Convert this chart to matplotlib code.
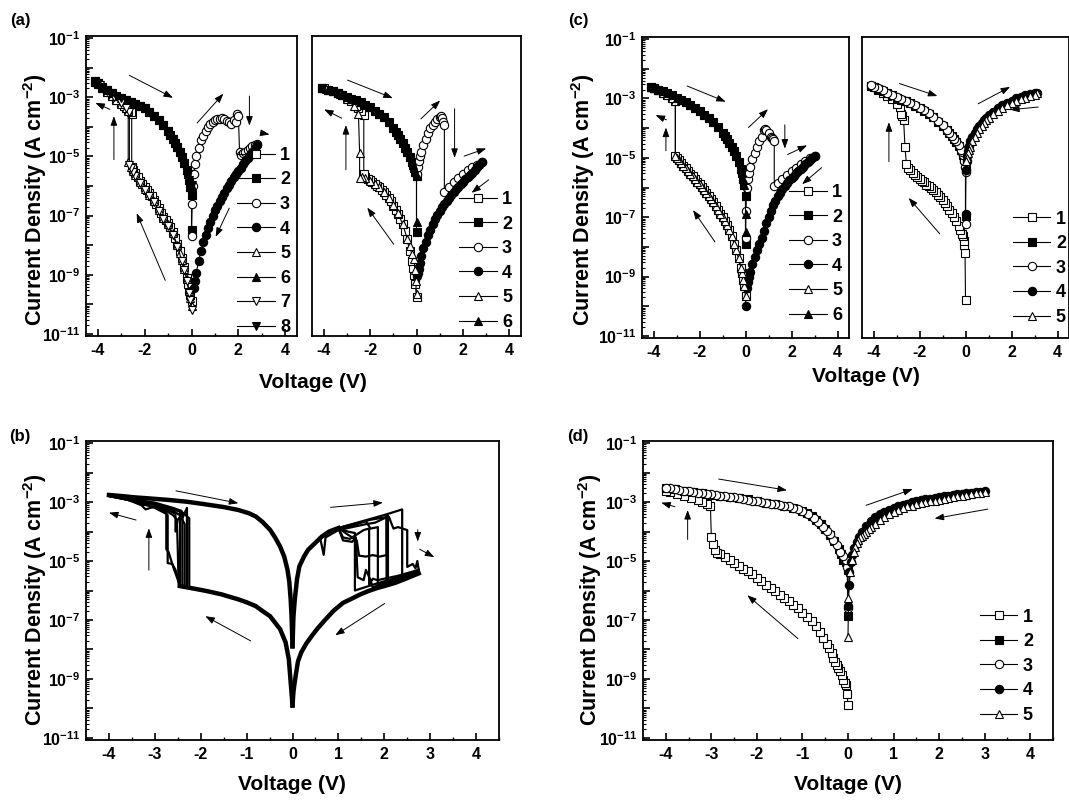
import numpy as np
import matplotlib
matplotlib.use("Agg")
import matplotlib.pyplot as plt
from matplotlib.ticker import FixedLocator, FuncFormatter, LogLocator, MultipleLocator, NullFormatter

# ---------------- data (V in volts, L = log10 of current density) ----------------
# panel (a) left
aL1_V = [0, -0.05, -0.1, -0.15, -0.2, -0.3, -0.4, -0.5, -0.6, -0.7, -0.8, -0.9, -1.0, -1.1, -1.2, -1.3, -1.4, -1.5, -1.6, -1.7, -1.8, -1.9, -2.0, -2.1, -2.2, -2.3, -2.4, -2.5, -2.55, -2.55, -2.6, -2.7, -2.8, -2.9, -3.0, -3.2, -3.4, -3.6, -3.8, -4.0, -4.1]
aL1_L = [-9.9, -9.7, -9.5, -9.3, -9.1, -8.75, -8.45, -8.2, -7.95, -7.75, -7.55, -7.4, -7.25, -7.15, -7.04, -6.9, -6.75, -6.6, -6.47, -6.35, -6.25, -6.15, -6.05, -5.93, -5.82, -5.7, -5.56, -5.45, -5.35, -3.55, -3.5, -3.42, -3.35, -3.28, -3.2, -3.08, -2.97, -2.83, -2.68, -2.55, -2.47]
aL2_V = [-4.1, -4.0, -3.8, -3.6, -3.4, -3.2, -3.0, -2.8, -2.6, -2.4, -2.2, -2.0, -1.8, -1.6, -1.4, -1.2, -1.0, -0.9, -0.8, -0.7, -0.6, -0.5, -0.4, -0.3, -0.2, -0.15, -0.1, -0.05, 0, 0]
aL2_L = [-2.45, -2.52, -2.64, -2.76, -2.86, -2.95, -3.02, -3.08, -3.15, -3.22, -3.3, -3.38, -3.5, -3.62, -3.77, -3.95, -4.15, -4.27, -4.4, -4.53, -4.68, -4.85, -5.02, -5.22, -5.45, -5.6, -5.8, -6.05, -6.3, -7.5]
aL3_V = [0, 0.03, 0.06, 0.1, 0.15, 0.2, 0.3, 0.4, 0.5, 0.6, 0.7, 0.8, 0.9, 1.0, 1.1, 1.2, 1.3, 1.4, 1.5, 1.6, 1.7, 1.8, 1.9, 1.95, 2.0, 2.05, 2.1, 2.2, 2.3, 2.4, 2.5, 2.6, 2.7, 2.8]
aL3_L = [-7.7, -6.6, -6.0, -5.6, -5.25, -5.0, -4.7, -4.45, -4.3, -4.15, -4.02, -3.92, -3.85, -3.78, -3.74, -3.72, -3.7, -3.72, -3.8, -3.85, -3.9, -3.78, -3.85, -3.55, -3.65, -4.85, -4.95, -4.9, -4.85, -4.78, -4.72, -4.66, -4.62, -4.58]
aL4_V = [2.8, 2.7, 2.6, 2.5, 2.4, 2.3, 2.2, 2.1, 2.0, 1.9, 1.8, 1.7, 1.6, 1.5, 1.4, 1.3, 1.2, 1.1, 1.0, 0.9, 0.8, 0.7, 0.6, 0.5, 0.4, 0.3, 0.2, 0.15, 0.1]
aL4_L = [-4.6, -4.72, -4.85, -4.95, -5.05, -5.15, -5.27, -5.38, -5.48, -5.58, -5.7, -5.82, -5.95, -6.08, -6.22, -6.36, -6.5, -6.66, -6.82, -7.0, -7.2, -7.42, -7.65, -7.9, -8.2, -8.55, -8.95, -9.2, -9.45]
aL5_V = [0, -0.05, -0.1, -0.2, -0.3, -0.4, -0.5, -0.6, -0.8, -1.0, -1.2, -1.4, -1.6, -1.8, -2.0, -2.2, -2.4, -2.5, -2.6, -2.7, -2.7, -2.8, -3.0, -3.2, -3.4, -3.6, -3.8, -4.0, -4.1]
aL5_L = [-10.05, -9.8, -9.55, -9.15, -8.8, -8.5, -8.25, -8.0, -7.6, -7.3, -7.08, -6.8, -6.52, -6.3, -6.1, -5.87, -5.62, -5.5, -5.35, -5.2, -3.45, -3.38, -3.22, -3.08, -2.95, -2.82, -2.68, -2.55, -2.48]
aL6_end = [-6.0]
aL7_V = [0, -0.05, -0.1, -0.2, -0.3, -0.4, -0.6, -0.8, -1.0, -1.2, -1.4, -1.6, -1.8, -2.0, -2.2, -2.4, -2.5, -2.6, -2.65, -2.65, -2.8, -3.0, -3.3, -3.6, -3.9, -4.1]
aL7_L = [-10.2, -9.85, -9.6, -9.2, -8.85, -8.55, -8.05, -7.65, -7.35, -7.1, -6.85, -6.55, -6.33, -6.12, -5.9, -5.65, -5.52, -5.4, -5.3, -3.5, -3.36, -3.2, -3.0, -2.8, -2.6, -2.47]
aL8_end = [-5.96]

# panel (a) right
aR1_V = [0, -0.05, -0.1, -0.15, -0.2, -0.3, -0.4, -0.5, -0.6, -0.7, -0.8, -0.9, -1.0, -1.1, -1.2, -1.3, -1.4, -1.5, -1.6, -1.7, -1.8, -1.9, -2.0, -2.1, -2.2, -2.27, -2.27, -2.4, -2.5, -2.6, -2.8, -3.0, -3.2, -3.4, -3.6, -3.8, -4.0, -4.05]
aR1_L = [-9.75, -9.3, -9.0, -8.77, -8.55, -8.2, -7.8, -7.52, -7.3, -7.1, -6.94, -6.8, -6.66, -6.52, -6.4, -6.3, -6.2, -6.12, -6.05, -5.99, -5.93, -5.87, -5.81, -5.75, -5.68, -5.6, -3.6, -3.48, -3.38, -3.28, -3.13, -3.02, -2.93, -2.86, -2.8, -2.75, -2.7, -2.68]
aR2_V = [-4.05, -3.8, -3.6, -3.4, -3.2, -3.0, -2.8, -2.6, -2.4, -2.2, -2.0, -1.8, -1.6, -1.4, -1.2, -1.0, -0.9, -0.8, -0.7, -0.6, -0.5, -0.4, -0.3, -0.2, -0.15, -0.1, -0.05, 0, 0]
aR2_L = [-2.68, -2.75, -2.8, -2.86, -2.93, -3.0, -3.05, -3.1, -3.17, -3.25, -3.33, -3.45, -3.55, -3.68, -3.85, -4.05, -4.16, -4.28, -4.42, -4.55, -4.7, -4.85, -5.02, -5.2, -5.3, -5.4, -5.52, -5.65, -7.55]
aR3_V = [0, 0.05, 0.1, 0.15, 0.2, 0.3, 0.4, 0.5, 0.6, 0.7, 0.8, 0.9, 1.0, 1.05, 1.1, 1.15, 1.2, 1.2, 1.4, 1.6, 1.8, 2.0, 2.2, 2.4, 2.6, 2.8]
aR3_L = [-5.6, -5.35, -5.15, -5.0, -4.85, -4.6, -4.4, -4.2, -4.05, -3.93, -3.83, -3.74, -3.66, -3.62, -3.7, -3.82, -3.95, -6.2, -6.05, -5.88, -5.72, -5.58, -5.47, -5.37, -5.28, -5.2]
aR4_V = [2.8, 2.7, 2.6, 2.5, 2.4, 2.3, 2.2, 2.1, 2.0, 1.9, 1.8, 1.7, 1.6, 1.5, 1.4, 1.3, 1.2, 1.1, 1.0, 0.9, 0.8, 0.7, 0.6, 0.5, 0.4, 0.3, 0.2, 0.15, 0.1, 0.05, 0]
aR4_L = [-5.2, -5.28, -5.37, -5.46, -5.55, -5.62, -5.7, -5.78, -5.85, -5.93, -6.02, -6.1, -6.2, -6.3, -6.4, -6.5, -6.6, -6.72, -6.85, -6.98, -7.12, -7.3, -7.48, -7.65, -7.88, -8.1, -8.38, -8.6, -8.8, -8.95, -9.05]
aR5_V = [0, -0.04, -0.07, -0.1, -0.2, -0.3, -0.4, -0.6, -0.8, -1.0, -1.2, -1.4, -1.6, -1.8, -2.0, -2.2, -2.35, -2.45, -2.45, -2.5, -2.7, -3.0, -3.3, -3.6, -3.9, -4.05]
aR5_L = [-9.65, -9.2, -8.83, -8.48, -8.3, -8.02, -7.78, -7.28, -6.92, -6.64, -6.4, -6.2, -6.05, -5.92, -5.82, -5.74, -5.7, -5.74, -4.88, -3.55, -3.3, -3.06, -2.9, -2.8, -2.72, -2.68]
aR6_end = [-7.22]

# panel (c) left
cL1_V = [0, -0.05, -0.1, -0.15, -0.2, -0.3, -0.4, -0.5, -0.6, -0.7, -0.8, -0.9, -1.0, -1.1, -1.2, -1.3, -1.4, -1.5, -1.6, -1.7, -1.8, -1.9, -2.0, -2.1, -2.2, -2.3, -2.4, -2.5, -2.6, -2.7, -2.8, -2.9, -3.0, -3.05, -3.05, -3.2, -3.4, -3.6, -3.8, -4.0, -4.1]
cL1_L = [-9.67, -9.33, -9.1, -8.89, -8.7, -8.39, -8.12, -7.89, -7.65, -7.44, -7.28, -7.13, -7.0, -6.88, -6.76, -6.64, -6.5, -6.39, -6.29, -6.18, -6.08, -5.98, -5.89, -5.8, -5.71, -5.62, -5.53, -5.44, -5.35, -5.26, -5.17, -5.09, -5.0, -4.95, -3.1, -2.98, -2.9, -2.82, -2.73, -2.65, -2.6]
cL2_V = [-4.1, -4.0, -3.8, -3.6, -3.4, -3.2, -3.0, -2.8, -2.6, -2.4, -2.2, -2.0, -1.8, -1.6, -1.4, -1.2, -1.0, -0.9, -0.8, -0.7, -0.6, -0.5, -0.4, -0.3, -0.2, -0.15, -0.1, -0.05, 0, 0]
cL2_L = [-2.62, -2.65, -2.7, -2.76, -2.82, -2.9, -2.98, -3.05, -3.13, -3.22, -3.33, -3.43, -3.55, -3.67, -3.8, -3.97, -4.15, -4.27, -4.38, -4.5, -4.63, -4.78, -4.95, -5.15, -5.38, -5.52, -5.7, -5.92, -6.3, -7.9]
cL3_V = [0, 0.02, 0.05, 0.1, 0.15, 0.2, 0.3, 0.4, 0.5, 0.6, 0.7, 0.8, 0.85, 0.9, 1.0, 1.1, 1.15, 1.2, 1.25, 1.25, 1.4, 1.6, 1.8, 2.0, 2.2, 2.4, 2.6, 2.8, 3.0]
cL3_L = [-7.7, -6.8, -6.0, -5.7, -5.5, -5.3, -5.05, -4.83, -4.65, -4.45, -4.3, -4.05, -4.02, -4.05, -4.15, -4.3, -4.32, -4.35, -4.45, -5.95, -5.85, -5.7, -5.57, -5.45, -5.33, -5.22, -5.12, -5.02, -4.94]
cL4_V = [3.0, 2.9, 2.8, 2.7, 2.6, 2.5, 2.4, 2.3, 2.2, 2.1, 2.0, 1.9, 1.8, 1.7, 1.6, 1.5, 1.4, 1.3, 1.2, 1.1, 1.0, 0.9, 0.8, 0.7, 0.6, 0.5, 0.4, 0.3, 0.2, 0.15, 0.1, 0.05, 0]
cL4_L = [-4.94, -5.01, -5.08, -5.15, -5.22, -5.3, -5.38, -5.45, -5.52, -5.6, -5.68, -5.76, -5.85, -5.95, -6.05, -6.17, -6.3, -6.45, -6.6, -6.78, -6.98, -7.2, -7.45, -7.7, -7.9, -8.1, -8.33, -8.58, -8.85, -9.0, -9.2, -9.4, -9.98]
cL6_end_V = [0, 0]
cL6_end_L = [-6.9, -7.5]

# panel (c) right
cR1_V = [0, -0.02, -0.05, -0.08, -0.12, -0.16, -0.22, -0.3, -0.4, -0.5, -0.6, -0.7, -0.8, -0.9, -1.0, -1.1, -1.2, -1.3, -1.4, -1.5, -1.6, -1.7, -1.8, -1.9, -2.0, -2.1, -2.2, -2.3, -2.4, -2.5, -2.57, -2.63, -2.69, -2.75, -2.8, -2.85, -3.0, -3.2, -3.4, -3.6, -3.8, -4.0, -4.1]
cR1_L = [-9.78, -8.2, -7.95, -7.8, -7.65, -7.55, -7.43, -7.3, -7.12, -6.98, -6.86, -6.75, -6.64, -6.53, -6.43, -6.33, -6.24, -6.16, -6.09, -6.02, -5.96, -5.9, -5.83, -5.77, -5.7, -5.64, -5.57, -5.5, -5.42, -5.33, -5.2, -4.65, -3.74, -3.6, -3.52, -3.29, -3.18, -3.03, -2.92, -2.82, -2.72, -2.62, -2.58]
cR2_V = [-4.1, -4.0, -3.8, -3.6, -3.4, -3.2, -3.0, -2.8, -2.6, -2.4, -2.2, -2.0, -1.8, -1.6, -1.4, -1.2, -1.0, -0.8, -0.7, -0.6, -0.5, -0.4, -0.3, -0.2, -0.1, -0.05, 0, 0]
cR2_L = [-2.57, -2.61, -2.68, -2.75, -2.82, -2.9, -2.97, -3.04, -3.1, -3.17, -3.25, -3.33, -3.42, -3.52, -3.63, -3.78, -3.92, -4.07, -4.17, -4.27, -4.37, -4.47, -4.6, -4.73, -4.9, -5.05, -5.3, -6.97]
cR3_V = [0, 0, -0.02, -0.05, -0.1, -0.15, -0.2, -0.3, -0.4, -0.5, -0.6, -0.7, -0.8, -1.0, -1.2, -1.4, -1.6, -1.8, -2.0, -2.2, -2.4, -2.6, -2.8, -3.0, -3.2, -3.4, -3.6, -3.8, -4.0, -4.1]
cR3_L = [-7.22, -5.47, -5.3, -5.1, -4.92, -4.8, -4.72, -4.58, -4.45, -4.35, -4.25, -4.15, -4.05, -3.9, -3.76, -3.62, -3.5, -3.4, -3.31, -3.23, -3.15, -3.08, -3.02, -2.95, -2.88, -2.8, -2.73, -2.66, -2.6, -2.56]
cR4_V = [0, 0.02, 0.05, 0.07, 0.1, 0.14, 0.2, 0.3, 0.4, 0.5, 0.6, 0.7, 0.8, 0.9, 1.0, 1.2, 1.4, 1.6, 1.8, 2.0, 2.2, 2.4, 2.6, 2.8, 3.0, 3.1]
cR4_L = [-6.9, -5.4, -5.1, -4.95, -4.78, -4.6, -4.45, -4.29, -4.15, -4.03, -3.93, -3.83, -3.74, -3.65, -3.57, -3.45, -3.33, -3.23, -3.14, -3.07, -3.0, -2.95, -2.9, -2.86, -2.83, -2.8]
cR5_V = [3.1, 3.0, 2.8, 2.6, 2.4, 2.2, 2.0, 1.8, 1.6, 1.4, 1.2, 1.0, 0.9, 0.8, 0.7, 0.6, 0.5, 0.4, 0.3, 0.2, 0.15, 0.1, 0.05, 0]
cR5_L = [-2.82, -2.87, -2.92, -2.97, -3.02, -3.08, -3.15, -3.22, -3.31, -3.41, -3.53, -3.66, -3.74, -3.83, -3.93, -4.04, -4.16, -4.3, -4.45, -4.62, -4.73, -4.85, -5.0, -5.1]

# panel (d)
d1_V = [0, -0.02, -0.04, -0.07, -0.1, -0.14, -0.17, -0.21, -0.24, -0.28, -0.32, -0.36, -0.42, -0.47, -0.54, -0.61, -0.7, -0.8, -0.9, -1.0, -1.1, -1.2, -1.3, -1.4, -1.5, -1.6, -1.7, -1.8, -1.9, -2.0, -2.1, -2.2, -2.3, -2.4, -2.5, -2.6, -2.7, -2.8, -2.87, -2.92, -2.96, -3.0, -3.02, -3.1, -3.2, -3.3, -3.45, -3.6, -3.75, -3.9, -4.0]
d1_L = [-9.89, -9.5, -9.22, -9.12, -9.04, -8.88, -8.74, -8.62, -8.52, -8.42, -8.3, -8.13, -7.95, -7.8, -7.6, -7.41, -7.22, -7.05, -6.9, -6.75, -6.61, -6.49, -6.37, -6.25, -6.14, -6.03, -5.91, -5.8, -5.69, -5.56, -5.45, -5.35, -5.26, -5.17, -5.06, -4.95, -4.86, -4.76, -4.72, -4.62, -4.41, -4.19, -3.13, -3.08, -3.0, -2.93, -2.86, -2.78, -2.72, -2.66, -2.62]
d2_V = [-4.0, -3.8, -3.6, -3.4, -3.2, -3.0, -2.8, -2.6, -2.4, -2.2, -2.0, -1.8, -1.6, -1.4, -1.2, -1.0, -0.9, -0.8, -0.7, -0.6, -0.5, -0.4, -0.3, -0.2, -0.15, -0.1, -0.05, 0, 0]
d2_L = [-2.52, -2.57, -2.62, -2.66, -2.71, -2.75, -2.79, -2.82, -2.86, -2.91, -2.97, -3.02, -3.08, -3.14, -3.2, -3.32, -3.38, -3.48, -3.6, -3.75, -3.92, -4.12, -4.33, -4.6, -4.75, -4.95, -5.05, -5.3, -6.88]
d3_V = [0, -0.02, -0.05, -0.1, -0.17, -0.25, -0.32, -0.4, -0.47, -0.55, -0.65, -0.75, -0.87, -1.0, -1.1, -1.2, -1.3, -1.4, -1.5, -1.6, -1.7, -1.8, -1.9, -2.0, -2.1, -2.2, -2.3, -2.4, -2.5, -2.6, -2.7, -2.8, -2.9, -3.0, -3.1, -3.2, -3.3, -3.4, -3.5, -3.6, -3.7, -3.8, -3.9, -4.0]
d3_L = [-6.6, -5.2, -4.97, -4.82, -4.69, -4.45, -4.3, -4.1, -3.97, -3.83, -3.69, -3.55, -3.41, -3.3, -3.24, -3.19, -3.15, -3.13, -3.11, -3.08, -3.05, -3.02, -3.0, -2.97, -2.95, -2.92, -2.89, -2.86, -2.84, -2.82, -2.8, -2.78, -2.76, -2.74, -2.72, -2.7, -2.68, -2.66, -2.64, -2.61, -2.58, -2.56, -2.54, -2.52]
d4_V = [0, 0.02, 0.03, 0.06, 0.09, 0.14, 0.2, 0.25, 0.31, 0.4, 0.5, 0.6, 0.7, 0.8, 0.9, 1.0, 1.1, 1.2, 1.3, 1.4, 1.5, 1.6, 1.7, 1.8, 1.9, 2.0, 2.1, 2.2, 2.3, 2.4, 2.5, 2.6, 2.7, 2.8, 2.9, 3.0]
d4_L = [-6.52, -5.8, -5.36, -5.05, -4.8, -4.55, -4.36, -4.2, -4.02, -3.82, -3.63, -3.52, -3.42, -3.34, -3.26, -3.2, -3.14, -3.1, -3.05, -3.01, -2.97, -2.94, -2.91, -2.88, -2.85, -2.82, -2.8, -2.78, -2.76, -2.74, -2.72, -2.7, -2.68, -2.66, -2.65, -2.63]
d5_V = [3.0, 2.9, 2.8, 2.7, 2.6, 2.5, 2.4, 2.3, 2.2, 2.1, 2.0, 1.9, 1.8, 1.7, 1.6, 1.5, 1.4, 1.3, 1.2, 1.1, 1.0, 0.9, 0.8, 0.7, 0.6, 0.5, 0.45, 0.4, 0.35, 0.3, 0.27, 0.23, 0.2, 0.16, 0.13, 0.09, 0.05, 0.01, 0]
d5_L = [-2.67, -2.69, -2.71, -2.73, -2.76, -2.79, -2.81, -2.84, -2.87, -2.9, -2.93, -2.95, -2.97, -3.0, -3.04, -3.08, -3.12, -3.15, -3.19, -3.26, -3.33, -3.42, -3.52, -3.62, -3.74, -3.86, -3.93, -4.0, -4.08, -4.15, -4.19, -4.3, -4.4, -4.52, -4.7, -4.97, -5.36, -6.24, -7.58]

# panel (b): common branches of the repeated cycles
b_ll_V = [0, -0.02, -0.04, -0.08, -0.15, -0.27, -0.4, -0.49, -0.65, -0.8, -1.0, -1.18, -1.4, -1.55, -1.75, -1.93, -2.1, -2.24, -2.35, -2.45]
b_ll_L = [-9.9, -9.5, -9.11, -8.33, -7.76, -7.31, -7.05, -6.87, -6.7, -6.53, -6.4, -6.3, -6.2, -6.13, -6.06, -6.0, -5.95, -5.91, -5.88, -5.85]
b_ul_V = [-4.0, -3.7, -3.45, -3.1, -2.69, -2.3, -1.93, -1.5, -1.18, -0.95, -0.8, -0.65, -0.49, -0.38, -0.27, -0.18, -0.11, -0.07, -0.04, -0.02, 0]
b_ul_L = [-2.76, -2.8, -2.84, -2.88, -2.93, -2.99, -3.07, -3.17, -3.27, -3.38, -3.49, -3.68, -3.94, -4.2, -4.51, -4.85, -5.29, -5.7, -6.3, -6.9, -7.88]
b_pos_V = [0, 0.02, 0.05, 0.1, 0.15, 0.25, 0.34, 0.5, 0.64, 0.8, 1.0]
b_pos_L = [-7.9, -6.9, -6.3, -5.6, -5.18, -4.85, -4.62, -4.38, -4.17, -4.0, -3.88]
b_lr_V = [2.75, 2.5, 2.24, 2.0, 1.86, 1.65, 1.48, 1.3, 1.1, 0.9, 0.72, 0.55, 0.42, 0.3, 0.19, 0.12, 0.08, 0.04, 0.02, 0]
b_lr_L = [-5.42, -5.58, -5.74, -5.85, -5.91, -6.02, -6.13, -6.27, -6.42, -6.68, -6.98, -7.28, -7.54, -7.8, -8.1, -8.4, -8.78, -9.2, -9.45, -9.9]
# panel (b): set (negative) transitions of each cycle
b_set1_V = [-2.25, -2.25, -2.4, -2.7, -3.0, -3.5, -4.0]
b_set1_L = [-5.92, -3.55, -3.35, -3.2, -3.05, -2.9, -2.78]
b_set2_V = [-2.35, -2.35, -2.45, -2.6, -3.0, -3.5, -4.0]
b_set2_L = [-5.88, -3.75, -3.45, -3.3, -3.05, -2.92, -2.78]
b_set3_V = [-2.45, -2.45, -2.6, -3.0, -3.3, -3.6, -4.0]
b_set3_L = [-5.85, -3.3, -3.25, -3.08, -3.1, -2.92, -2.8]
b_set4_V = [-2.45, -2.48, -2.5, -2.52, -2.6, -2.7, -3.0, -3.5, -4.0]
b_set4_L = [-5.85, -5.88, -4.6, -3.6, -3.45, -3.35, -3.1, -2.95, -2.79]
b_set5_V = [-2.45, -2.55, -2.62, -2.72, -2.72, -2.8, -3.0, -3.2, -3.3, -3.5, -4.0]
b_set5_L = [-5.85, -5.3, -5.1, -5.07, -3.45, -3.3, -3.15, -3.25, -3.1, -2.95, -2.8]
b_set6_V = [-2.4, -2.4, -2.5, -2.55, -2.55, -2.8, -3.2, -3.6, -4.0]
b_set6_L = [-5.86, -3.4, -3.6, -4.0, -3.4, -3.2, -3.0, -2.88, -2.77]
b_set7_V = [-2.3, -2.3, -2.4, -2.42, -2.6, -3.0, -3.5, -4.0]
b_set7_L = [-5.9, -3.2, -3.55, -3.3, -3.2, -3.02, -2.9, -2.77]
b_set8_V = [-2.45, -2.6, -2.7, -2.75, -2.75, -3.0, -3.4, -3.8, -4.0]
b_set8_L = [-5.85, -5.2, -4.7, -4.6, -3.4, -3.2, -3.0, -2.85, -2.78]
# panel (b): reset (positive) transitions of each cycle
b_rst1_V = [1.0, 1.2, 1.36, 1.36, 1.8, 2.3, 2.75]
b_rst1_L = [-3.88, -4.0, -4.05, -6.0, -5.78, -5.55, -5.35]
b_rst2_V = [1.0, 1.1, 1.25, 1.4, 1.55, 1.67, 1.67, 1.75, 1.85, 2.3, 2.75]
b_rst2_L = [-3.88, -4.2, -4.25, -4.1, -3.95, -3.9, -5.8, -5.6, -5.65, -5.5, -5.3]
b_rst3_V = [1.0, 1.3, 1.5, 1.6, 1.7, 1.86, 1.86, 2.3, 2.75]
b_rst3_L = [-3.88, -3.8, -3.7, -3.65, -3.9, -3.85, -5.85, -5.6, -5.35]
b_rst4_V = [1.0, 1.2, 1.4, 1.45, 1.6, 1.75, 1.9, 2.05, 2.05, 2.08, 2.08, 2.4, 2.75]
b_rst4_L = [-3.88, -4.1, -4.3, -4.82, -4.85, -4.8, -4.85, -4.8, -3.45, -3.45, -5.75, -5.55, -5.3]
b_rst5_V = [1.0, 1.5, 2.0, 2.39, 2.39, 2.6, 2.75]
b_rst5_L = [-3.88, -3.66, -3.44, -3.25, -5.6, -5.45, -5.35]
b_rst6_V = [1.0, 1.1, 1.3, 1.38, 1.42, 1.55, 1.6, 1.7, 1.75, 2.2, 2.75]
b_rst6_L = [-3.88, -4.3, -4.35, -4.2, -5.55, -5.65, -5.3, -5.65, -5.9, -5.6, -5.4]
b_rst7_V = [1.0, 1.7, 2.1, 2.2, 2.3, 2.5, 2.5, 2.62, 2.68, 2.72, 2.75]
b_rst7_L = [-3.88, -3.6, -3.5, -3.9, -3.85, -3.95, -5.2, -5.1, -5.25, -5.0, -5.3]
b_rst8_V = [0.6, 0.68, 0.72, 1.0, 1.6, 1.8, 2.0, 2.05, 2.05, 2.4, 2.75]
b_rst8_L = [-4.2, -4.79, -4.2, -3.95, -3.75, -3.7, -3.55, -3.5, -5.7, -5.5, -5.35]

# sweep-direction arrows: (V start, logJ start, V end, logJ end)
aL_arrows = [(-2.65, -2.26, -0.79, -3.02), (0.24, -3.87, 1.36, -2.88), (2.47, -2.96, 2.47, -3.96), (2.94, -4.2, 3.33, -4.26),
             (1.61, -6.75, 1.03, -7.72), (-1.12, -9.19, -2.34, -6.92), (-3.31, -5.11, -3.31, -3.64), (-3.48, -3.41, -4.1, -3.19)]
aR_arrows = [(-2.97, -2.42, -1.02, -3.03), (0.19, -3.73, 1.02, -3.11), (1.64, -3.39, 1.64, -5.05), (2.05, -4.99, 3.0, -4.73),
             (3.11, -5.79, 2.37, -6.23), (-0.98, -7.97, -2.12, -6.73), (-3.04, -5.45, -3.04, -3.94), (-3.22, -3.71, -3.98, -3.41)]
cL_arrows = [(-2.54, -2.58, -0.86, -3.11), (0.13, -3.98, 0.98, -3.36), (1.71, -3.89, 1.71, -4.69), (1.83, -4.89, 2.68, -4.58),
             (3.31, -5.33, 2.46, -5.89), (-1.33, -7.83, -2.28, -6.76), (-3.46, -4.76, -3.46, -3.98), (-3.44, -3.72, -3.91, -3.56)]
cR_arrows = [(-2.87, -2.5, -1.22, -2.92), (0.55, -3.18, 1.94, -2.61), (3.16, -3.29, 1.94, -3.38), (-3.33, -5.13, -3.33, -3.8),
             (-1.12, -7.56, -2.47, -6.35)]
b_arrows = [(-2.54, -2.62, -1.18, -3.04), (0.83, -3.18, 1.97, -3.02), (2.73, -3.94, 2.73, -4.34), (2.77, -4.6, 3.09, -4.87),
            (2.01, -6.44, 0.93, -7.52), (-0.91, -7.71, -1.9, -6.87), (-3.13, -5.31, -3.13, -3.89), (-3.41, -3.61, -4.0, -3.36)]
d_arrows = [(-2.84, -2.22, -1.34, -2.6), (0.4, -3.11, 1.42, -2.56), (3.07, -3.24, 1.9, -3.56), (-3.52, -4.27, -3.52, -3.27),
            (-3.8, -3.16, -4.1, -3.02), (-1.1, -7.63, -2.21, -6.16)]

# ---------------- styling ----------------
plt.rcParams.update({
    "font.family": ["Liberation Sans", "DejaVu Sans"],
    "font.weight": "bold",
    "mathtext.fontset": "custom",
    "mathtext.rm": "Liberation Sans:bold",
    "mathtext.bf": "Liberation Sans:bold",
    "mathtext.it": "Liberation Sans:bold",
    "mathtext.sf": "Liberation Sans:bold",
    "axes.unicode_minus": False,
    "axes.linewidth": 1.3,
})
W, H = 1069, 800
fig = plt.figure(figsize=(W / 100, H / 100), dpi=100)


def add_ax(x0, y0, x1, y1):
    return fig.add_axes([x0 / W, 1 - y1 / H, (x1 - x0) / W, (y1 - y0) / H])


MARKERS = {1: ("s", "white"), 2: ("s", "black"), 3: ("o", "white"), 4: ("o", "black"),
           5: ("^", "white"), 6: ("^", "black"), 7: ("v", "white"), 8: ("v", "black")}


def series(ax, V, L, k, ms=6.0):
    m, fc = MARKERS[k]
    ax.plot(V, np.power(10.0, np.asarray(L, float)), color="black", lw=0.8, marker=m, ms=ms,
            mfc=fc, mec="black", mew=0.8, label=str(k))


def ylab_fmt(v, p):
    e = int(round(np.log10(v)))
    return r"$10^{%d}$" % e if e % 2 else ""


def style(ax, yticks=True, xmajor=2, xminor=1):
    ax.set_yscale("log")
    ax.set_xlim(-4.5, 4.5)
    ax.set_ylim(10 ** -11.07, 10 ** -0.93)
    ax.xaxis.set_major_locator(MultipleLocator(xmajor))
    ax.xaxis.set_minor_locator(MultipleLocator(xminor))
    ax.tick_params(axis="x", which="major", direction="in", length=5, width=1.2, labelsize=11.5, pad=5, top=False)
    ax.tick_params(axis="x", which="minor", direction="in", length=2.5, width=1.0, top=False)
    if yticks:
        ax.yaxis.set_major_locator(FixedLocator([10.0 ** e for e in range(-11, 0)]))
        ax.yaxis.set_minor_locator(LogLocator(base=10, subs=np.arange(2, 10), numticks=100))
        ax.yaxis.set_major_formatter(FuncFormatter(ylab_fmt))
        ax.yaxis.set_minor_formatter(NullFormatter())
        ax.tick_params(axis="y", which="major", direction="in", length=5, width=1.2, labelsize=11.5, right=False, pad=4)
        ax.tick_params(axis="y", which="minor", direction="in", length=2.5, width=0.8, right=False)
    else:
        ax.tick_params(axis="y", which="both", left=False, right=False, labelleft=False)
    for lab in ax.get_xticklabels():
        lab.set_fontweight("bold")


def arrows(ax, lst):
    for x0, y0, x1, y1 in lst:
        ax.annotate("", xy=(x1, 10.0 ** y1), xytext=(x0, 10.0 ** y0),
                    arrowprops=dict(arrowstyle="-|>,head_length=0.55,head_width=0.2", color="black",
                                    lw=0.7, shrinkA=0, shrinkB=0))


def legend(ax, anchor):
    ax.legend(loc="lower right", bbox_to_anchor=anchor, frameon=False, prop={"size": 13, "weight": "bold"},
              handlelength=2.1, handletextpad=0.3, labelspacing=0.42, borderaxespad=0, borderpad=0, numpoints=1)


def ylabel(x, y):
    fig.text(x / W, 1 - y / H, "Current Density (A cm$^{-2}$)", rotation=90, ha="center", va="center",
             fontsize=15.5, fontweight="bold")


def xlabel(x, y):
    fig.text(x / W, 1 - y / H, "Voltage (V)", ha="center", va="center", fontsize=15, fontweight="bold")


# ---------------- panel (a) ----------------
ax = add_ax(86, 36, 297, 336)
style(ax)
series(ax, aL1_V, aL1_L, 1)
series(ax, aL2_V, aL2_L, 2)
series(ax, aL3_V, aL3_L, 3)
series(ax, aL4_V, aL4_L, 4)
series(ax, aL5_V, aL5_L, 5)
series(ax, aL2_V, aL2_L[:-1] + aL6_end, 6)
series(ax, aL7_V, aL7_L, 7)
series(ax, aL2_V, aL2_L[:-1] + aL8_end, 8)
arrows(ax, aL_arrows)
legend(ax, (0.967, 0.0))

ax = add_ax(312, 36, 521, 336)
style(ax, yticks=False)
series(ax, aR1_V, aR1_L, 1)
series(ax, aR2_V, aR2_L, 2)
series(ax, aR3_V, aR3_L, 3)
series(ax, aR4_V, aR4_L, 4)
series(ax, aR5_V, aR5_L, 5)
series(ax, aR2_V, aR2_L[:-1] + aR6_end, 6)
arrows(ax, aR_arrows)
legend(ax, (0.957, 0.017))

# ---------------- panel (c) ----------------
ax = add_ax(642, 37, 849, 338)
style(ax)
series(ax, cL1_V, cL1_L, 1)
series(ax, cL2_V, cL2_L, 2)
series(ax, cL3_V, cL3_L, 3)
series(ax, cL4_V, cL4_L, 4)
series(ax, cL1_V, cL1_L, 5)
series(ax, cL2_V[:-1] + cL6_end_V, cL2_L[:-1] + cL6_end_L, 6)
arrows(ax, cL_arrows)
legend(ax, (0.966, 0.047))

ax = add_ax(862, 37, 1069, 338)
style(ax, yticks=False)
series(ax, cR1_V, cR1_L, 1)
series(ax, cR2_V, cR2_L, 2)
series(ax, cR3_V, cR3_L, 3)
series(ax, cR4_V, cR4_L, 4)
series(ax, cR5_V, cR5_L, 5)
arrows(ax, cR_arrows)
legend(ax, (0.985, 0.04))

# ---------------- panel (b) ----------------
ax = add_ax(86, 441, 499, 740)
style(ax, xmajor=1, xminor=0.5)
for Vs, Ls in [(b_ll_V, b_ll_L), (b_ul_V, b_ul_L), (b_pos_V, b_pos_L), (b_lr_V, b_lr_L)]:
    ax.plot(Vs, np.power(10.0, Ls), color="black", lw=3.2, solid_joinstyle="round")
b_cycles = [(b_set1_V, b_set1_L), (b_set2_V, b_set2_L), (b_set3_V, b_set3_L), (b_set4_V, b_set4_L),
            (b_set5_V, b_set5_L), (b_set6_V, b_set6_L), (b_set7_V, b_set7_L), (b_set8_V, b_set8_L),
            (b_rst1_V, b_rst1_L), (b_rst2_V, b_rst2_L), (b_rst3_V, b_rst3_L), (b_rst4_V, b_rst4_L),
            (b_rst5_V, b_rst5_L), (b_rst6_V, b_rst6_L), (b_rst7_V, b_rst7_L), (b_rst8_V, b_rst8_L)]
for Vs, Ls in b_cycles:
    ax.plot(Vs, np.power(10.0, Ls), color="black", lw=1.6)
arrows(ax, b_arrows)

# ---------------- panel (d) ----------------
ax = add_ax(643, 441, 1053, 740)
style(ax, xmajor=1, xminor=0.5)
series(ax, d1_V, d1_L, 1)
series(ax, d2_V, d2_L, 2)
series(ax, d3_V, d3_L, 3)
series(ax, d4_V, d4_L, 4)
series(ax, d5_V, d5_L, 5)
arrows(ax, d_arrows)
legend(ax, (0.951, 0.054))

# ---------------- labels ----------------
ylabel(35, 200)
ylabel(583, 200)
ylabel(35, 600)
ylabel(590, 600)
xlabel(313, 382)
xlabel(866, 377)
xlabel(292, 785)
xlabel(848, 785)
for txt, x, y in [("(a)", 20, 20), ("(b)", 20, 437), ("(c)", 578, 20), ("(d)", 578, 437)]:
    fig.text(x / W, 1 - y / H, txt, ha="center", va="center", fontsize=12, fontweight="bold")

fig.savefig("out.png", dpi=100)
